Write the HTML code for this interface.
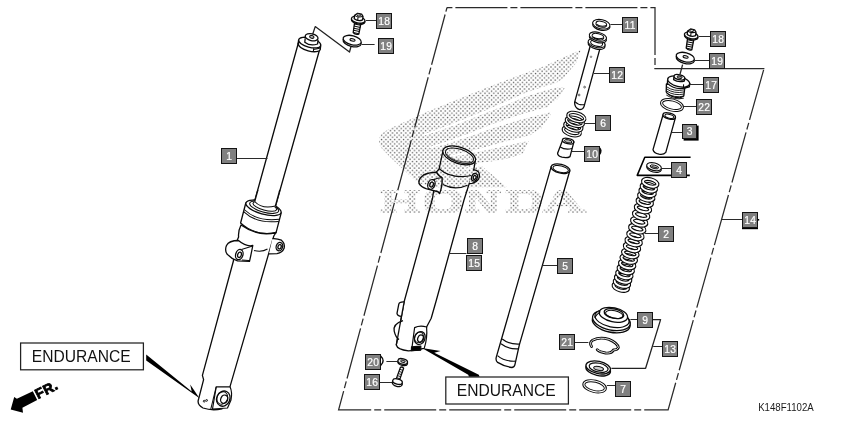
<!DOCTYPE html>
<html><head><meta charset="utf-8"><title>Front fork</title>
<style>
html,body{margin:0;padding:0;background:#fff;}
body{width:842px;height:421px;overflow:hidden;font-family:"Liberation Sans",sans-serif;}
svg{display:block;}
.lb{font-family:"Liberation Sans",sans-serif;font-size:10.3px;fill:#fff;stroke:#fff;stroke-width:0.2px;letter-spacing:0.2px;}
.end{font-family:"Liberation Sans",sans-serif;font-size:15.6px;fill:#111;}
.fr{font-family:"Liberation Sans",sans-serif;font-size:14px;font-weight:bold;fill:#000;stroke:#000;stroke-width:0.8px;letter-spacing:0.4px;}
.code{font-family:"Liberation Sans",sans-serif;font-size:10.4px;fill:#1a1a1a;}
.hd{font-family:"Liberation Serif",serif;font-weight:bold;}
</style></head><body>
<svg width="842" height="421" viewBox="0 0 842 421">
<rect width="842" height="421" fill="#fff"/>
<defs>
<pattern id="dots" width="4.4" height="4.4" patternUnits="userSpaceOnUse">
<rect x="0.3" y="0.3" width="1.3" height="1.3" fill="#5c5c5c"/>
<rect x="2.5" y="2.5" width="1.3" height="1.3" fill="#5c5c5c"/>
</pattern>
</defs>
<path d="M764 68.5 L668.1 409.8 L338.6 409.8 L447 7.5" fill="none" stroke="#2a2a2a" stroke-width="1.25" stroke-dasharray="52 3 7 3" stroke-dashoffset="63.6"/>
<path d="M447 7.5 L655 7.5 L655 68.5" fill="none" stroke="#2a2a2a" stroke-width="1.25" stroke-dasharray="52 3 7 3" stroke-dashoffset="56.6"/>
<path d="M654.4 68.5 L764.4 68.5" fill="none" stroke="#2a2a2a" stroke-width="1.25"/>
<path d="M298.5 42.5 L254.8 200.5 L275 208 L320.2 47.5 Z" fill="#fff" stroke="#0a0a0a" stroke-width="1.30" stroke-linejoin="round" />
<path d="M298.4 40.6 L298.2 44.4 Q305 53.4 320.2 49.4 L320.8 45.4 Z" fill="#fff" stroke="none" stroke-width="1.30" stroke-linejoin="round" />
<ellipse cx="309.30" cy="46.40" rx="11.40" ry="4.60" transform="rotate(15 309.30 46.40)" fill="#fff" stroke="#0a0a0a" stroke-width="1.30" />
<path d="M298.5 40.4 L298.2 44.2 M320.7 45.6 L320.3 49" fill="none" stroke="#0a0a0a" stroke-width="1.30" stroke-linejoin="round" />
<ellipse cx="309.70" cy="42.60" rx="11.40" ry="4.60" transform="rotate(15 309.70 42.60)" fill="#fff" stroke="#0a0a0a" stroke-width="1.30" />
<path d="M305.2 38.2 L304.8 42.2 Q310 46.5 317.6 44 L318 39.8" fill="#fff" stroke="#0a0a0a" stroke-width="1.30" stroke-linejoin="round" />
<ellipse cx="311.60" cy="37.20" rx="6.50" ry="3.40" transform="rotate(12 311.60 37.20)" fill="#fff" stroke="#0a0a0a" stroke-width="1.30" />
<ellipse cx="311.80" cy="36.90" rx="2.20" ry="1.40" transform="rotate(12 311.80 36.90)" fill="#bbb" stroke="#0a0a0a" stroke-width="1.04" />
<path d="M313.6 48.2 L313.4 51.6 M313.5 49.6 L319.6 48.2" fill="none" stroke="#0a0a0a" stroke-width="1.04" stroke-linejoin="round" />
<path d="M312.6 34.5 L315.2 26.6 L349.5 52 L351 46.5" fill="none" stroke="#222" stroke-width="1.30" stroke-linejoin="round" />
<path d="M245.8 203 L240.6 223 Q255 236.5 276 232.8 L281.2 212.8 Z" fill="#fff" stroke="#0a0a0a" stroke-width="1.30" stroke-linejoin="round" />
<ellipse cx="263.50" cy="207.80" rx="18.20" ry="6.30" transform="rotate(15.6 263.50 207.80)" fill="#fff" stroke="#0a0a0a" stroke-width="1.30" />
<ellipse cx="264.20" cy="207.20" rx="15.00" ry="4.90" transform="rotate(15.6 264.20 207.20)" fill="#fff" stroke="#0a0a0a" stroke-width="1.04" />
<ellipse cx="264.80" cy="206.40" rx="12.20" ry="3.80" transform="rotate(15.6 264.80 206.40)" fill="#fff" stroke="#0a0a0a" stroke-width="1.04" />
<path d="M257.6 191 L254.6 202 Q262 210 275.4 206.6 L279.4 192 Z" fill="#fff" stroke="none" stroke-width="1.30" stroke-linejoin="round" />
<path d="M257.9 190 L254.7 201.5 M279.8 190 L275.4 206" fill="none" stroke="#0a0a0a" stroke-width="1.30" stroke-linejoin="round" />
<path d="M254.7 201.5 Q262 209.5 275.4 206" fill="none" stroke="#0a0a0a" stroke-width="1.04" stroke-linejoin="round" />
<path d="M244.2 209.5 Q257 222 279.4 219.3" fill="none" stroke="#0a0a0a" stroke-width="1.04" stroke-linejoin="round" />
<path d="M243.6 211.6 Q256.5 224 278.8 221.4" fill="none" stroke="#0a0a0a" stroke-width="1.04" stroke-linejoin="round" />
<path d="M241 225 Q238 231 238.6 237 L236 243 L233.4 261 L202.4 375.4 L203.6 379.6 L198.6 399 Q196.5 404.5 203 408 Q212 411 222 408.8 L230 386.6 L273.8 236 L276 232.5 Q258 237 241 225 Z" fill="#fff" stroke="#0a0a0a" stroke-width="1.30" stroke-linejoin="round" />
<path d="M238.5 240.5 Q229 240.5 226.5 245.5 Q224.5 250 227 254 Q231 258.5 237.5 260.8 L249.5 261.3 Q251 255 252.8 245.5 Q246 247 238.5 240.5 Z" fill="#fff" stroke="#0a0a0a" stroke-width="1.30" stroke-linejoin="round" />
<ellipse cx="239.30" cy="254.60" rx="3.60" ry="5.20" transform="rotate(18 239.30 254.60)" fill="#fff" stroke="#0a0a0a" stroke-width="1.30" />
<ellipse cx="239.50" cy="254.80" rx="1.80" ry="2.70" transform="rotate(18 239.50 254.80)" fill="#fff" stroke="#0a0a0a" stroke-width="1.30" />
<path d="M241.5 249.6 Q247 247.8 252.6 246" fill="none" stroke="#0a0a0a" stroke-width="1.04" stroke-linejoin="round" />
<path d="M242 260 Q247 260.6 249.7 260.4" fill="none" stroke="#0a0a0a" stroke-width="1.04" stroke-linejoin="round" />
<path d="M254 250.5 Q262 252.5 267.5 249" fill="none" stroke="#0a0a0a" stroke-width="1.04" stroke-linejoin="round" />
<path d="M272.4 238.6 Q277 238.2 281.4 240.2 Q285 243 284.2 248 Q282.4 252.8 277 253.6 L269 253.8" fill="#fff" stroke="#0a0a0a" stroke-width="1.30" stroke-linejoin="round" />
<ellipse cx="279.40" cy="246.60" rx="3.20" ry="4.20" transform="rotate(18 279.40 246.60)" fill="#fff" stroke="#0a0a0a" stroke-width="1.30" />
<ellipse cx="279.60" cy="246.80" rx="1.60" ry="2.20" transform="rotate(18 279.60 246.80)" fill="#fff" stroke="#0a0a0a" stroke-width="1.30" />
<path d="M216.2 386.8 L230 386.8 Q232.5 392 231 400 L227.5 408 L212.5 409 Z" fill="#fff" stroke="#0a0a0a" stroke-width="1.17" stroke-linejoin="round" />
<ellipse cx="223.30" cy="398.60" rx="6.60" ry="7.80" transform="rotate(25 223.30 398.60)" fill="#fff" stroke="#0a0a0a" stroke-width="1.30" />
<ellipse cx="224.20" cy="399.20" rx="3.40" ry="4.30" transform="rotate(25 224.20 399.20)" fill="#fff" stroke="#0a0a0a" stroke-width="1.30" />
<ellipse cx="222.30" cy="398.00" rx="5.20" ry="6.40" transform="rotate(25 222.30 398.00)" fill="none" stroke="#0a0a0a" stroke-width="0.91" />
<path d="M216.2 386.8 L210.8 409" fill="none" stroke="#0a0a0a" stroke-width="1.04" stroke-linejoin="round" />
<ellipse cx="204.20" cy="401.20" rx="0.90" ry="0.90" transform="rotate(0 204.20 401.20)" fill="#fff" stroke="#0a0a0a" stroke-width="0.91" />
<ellipse cx="206.60" cy="400.40" rx="0.90" ry="0.90" transform="rotate(0 206.60 400.40)" fill="#fff" stroke="#0a0a0a" stroke-width="0.91" />
<g transform="translate(358.2 19.5)">
<path d="M-3.4 1.5 L-5 13 Q-3 15.6 0.6 14.6 L3 2.5 Z" fill="#fff" stroke="#0a0a0a" stroke-width="1.30" stroke-linejoin="round" />
<path d="M-3.90 4.50 L2.50 5.80" fill="none" stroke="#0a0a0a" stroke-width="1.04" stroke-linejoin="round" />
<path d="M-4.18 6.60 L2.08 7.90" fill="none" stroke="#0a0a0a" stroke-width="1.04" stroke-linejoin="round" />
<path d="M-4.46 8.70 L1.66 10.00" fill="none" stroke="#0a0a0a" stroke-width="1.04" stroke-linejoin="round" />
<path d="M-4.74 10.80 L1.24 12.10" fill="none" stroke="#0a0a0a" stroke-width="1.04" stroke-linejoin="round" />
<path d="M-5.02 12.90 L0.82 14.20" fill="none" stroke="#0a0a0a" stroke-width="1.04" stroke-linejoin="round" />
<ellipse cx="0.00" cy="1.20" rx="6.90" ry="3.30" transform="rotate(12 0.00 1.20)" fill="#fff" stroke="#0a0a0a" stroke-width="1.30" />
<ellipse cx="0.00" cy="0.20" rx="6.90" ry="3.30" transform="rotate(12 0.00 0.20)" fill="#fff" stroke="#0a0a0a" stroke-width="1.30" />
<path d="M-4 -0.8 L-3.6 -4.2 L-0.6 -6.2 L3.4 -5.4 L4.8 -3.2 L4.4 0.4 Q0 2.4 -4 -0.8 Z" fill="#fff" stroke="#0a0a0a" stroke-width="1.30" stroke-linejoin="round" />
<path d="M-3.6 -4.2 Q0 -1.6 4.8 -3.2 M-0.2 -2.6 L-0.5 1" fill="none" stroke="#0a0a0a" stroke-width="1.04" stroke-linejoin="round" />
<ellipse cx="0.60" cy="-4.60" rx="2.00" ry="1.00" transform="rotate(10 0.60 -4.60)" fill="#fff" stroke="#0a0a0a" stroke-width="0.91" />
</g>
<line x1="366" y1="20.5" x2="376.5" y2="20.5" stroke="#2a2a2a" stroke-width="1.0" />
<rect x="376.50" y="13.50" width="15" height="15" fill="#808080" stroke="#141414" stroke-width="1"/>
<text x="384.15" y="24.60" text-anchor="middle" class="lb">18</text>
<ellipse cx="352.20" cy="41.90" rx="9.30" ry="4.50" transform="rotate(14 352.20 41.90)" fill="#fff" stroke="#0a0a0a" stroke-width="1.30" />
<ellipse cx="352.20" cy="40.20" rx="9.30" ry="4.50" transform="rotate(14 352.20 40.20)" fill="#fff" stroke="#0a0a0a" stroke-width="1.30" />
<ellipse cx="352.50" cy="39.90" rx="2.60" ry="1.20" transform="rotate(14 352.50 39.90)" fill="#ddd" stroke="#0a0a0a" stroke-width="1.04" />
<line x1="362" y1="44.5" x2="374.6" y2="44.5" stroke="#2a2a2a" stroke-width="1.0" />
<rect x="378.50" y="38.50" width="15" height="15" fill="#808080" stroke="#141414" stroke-width="1"/>
<text x="386.15" y="49.60" text-anchor="middle" class="lb">19</text>
<line x1="237" y1="158.5" x2="267.5" y2="158.5" stroke="#2a2a2a" stroke-width="1.0" />
<rect x="221.50" y="148.50" width="15" height="15" fill="#808080" stroke="#141414" stroke-width="1"/>
<text x="229.15" y="159.60" text-anchor="middle" class="lb">1</text>
<rect x="20.6" y="343" width="122.8" height="26.8" fill="#fff" stroke="#222" stroke-width="1.25"/>
<text x="81.2" y="361.7" text-anchor="middle" class="end">ENDURANCE</text>
<path d="M146.2 354.6 L191.7 391.5 L190.2 384.4 L199.5 398.3 L146.2 360.6 Z" fill="#000" stroke="none" stroke-width="1.30" stroke-linejoin="round" />
<path d="M10.7 409.4 L14.2 396.9 L16.9 398.8 L32.8 391.2 L37.2 400.1 L22.4 407.8 L23 412.7 Z" fill="#000" stroke="none" stroke-width="1.30" stroke-linejoin="round" />
<text transform="translate(38.0 399.2) rotate(-27)" class="fr">FR.</text>
<path d="M443.1 150.1 L439.2 168.7 L436.4 172.2 L432.6 198 L404.2 301.5 L396.3 345 Q397.4 349.6 408.4 350.9 L420.6 349.8 L426.6 327 L431.2 318.2 L436.4 300 L464 200 L469.2 183.6 L472.8 175.2 L475.3 160.8 Z" fill="#fff" stroke="#0a0a0a" stroke-width="1.30" stroke-linejoin="round" />
<path d="M403 320.6 Q392.6 324 394.2 331.2 Q395.6 337.4 399 339.6" fill="#fff" stroke="#0a0a0a" stroke-width="1.30" stroke-linejoin="round" />
<ellipse cx="459.20" cy="155.40" rx="17.00" ry="8.20" transform="rotate(18.4 459.20 155.40)" fill="#fff" stroke="#0a0a0a" stroke-width="1.23" />
<ellipse cx="459.50" cy="155.70" rx="14.60" ry="6.50" transform="rotate(18.4 459.50 155.70)" fill="#fff" stroke="#0a0a0a" stroke-width="0.98" />
<path d="M446.6 153.8 Q452 162.5 472.4 162.2" fill="none" stroke="#333" stroke-width="0.78" stroke-linejoin="round" />
<path d="M447.6 156.6 Q455 163.6 469.6 163.6" fill="none" stroke="#333" stroke-width="0.78" stroke-linejoin="round" />
<path d="M439.2 168.7 Q452 180 472.8 175.3" fill="none" stroke="#0a0a0a" stroke-width="1.17" stroke-linejoin="round" />
<path d="M442.8 184.6 Q455 191 467.4 185.2" fill="none" stroke="#0a0a0a" stroke-width="1.17" stroke-linejoin="round" />
<path d="M436.4 172.2 Q428 172.6 423.6 175 Q418 179 419 183.4 Q421 187 426 188.6 L438 191.8 L439.6 193.4 Q442.6 186 442.1 177.6 Q439 176.6 436.4 172.2 Z" fill="#fff" stroke="#0a0a0a" stroke-width="1.43" stroke-linejoin="round" />
<ellipse cx="431.40" cy="184.40" rx="3.50" ry="5.00" transform="rotate(20 431.40 184.40)" fill="#fff" stroke="#0a0a0a" stroke-width="1.30" />
<ellipse cx="431.60" cy="184.60" rx="1.70" ry="2.50" transform="rotate(20 431.60 184.60)" fill="#fff" stroke="#0a0a0a" stroke-width="1.30" />
<path d="M433.4 179.8 Q438 177.6 442 177.7" fill="none" stroke="#0a0a0a" stroke-width="1.04" stroke-linejoin="round" />
<path d="M472.8 170.1 Q476 169.4 478.5 172 Q480.4 175 478.6 179 Q476.5 182.6 472 183.4 L469.2 183.6" fill="#fff" stroke="#0a0a0a" stroke-width="1.30" stroke-linejoin="round" />
<ellipse cx="474.50" cy="177.20" rx="2.80" ry="3.90" transform="rotate(20 474.50 177.20)" fill="#fff" stroke="#0a0a0a" stroke-width="1.30" />
<ellipse cx="474.70" cy="177.40" rx="1.40" ry="2.00" transform="rotate(20 474.70 177.40)" fill="#fff" stroke="#0a0a0a" stroke-width="1.30" />
<path d="M404.2 301.9 Q399.4 301.6 398.8 304.2 L397 313.4 Q397.4 316 401.6 316.4" fill="#fff" stroke="#0a0a0a" stroke-width="1.30" stroke-linejoin="round" />
<path d="M404.2 301.5 L396.3 345" fill="none" stroke="#0a0a0a" stroke-width="1.30" stroke-linejoin="round" />
<path d="M414.6 327.6 Q420 325 426.6 327 Q427.6 338 424.2 348.4 L411.6 350.4 Z" fill="#fff" stroke="#0a0a0a" stroke-width="1.17" stroke-linejoin="round" />
<ellipse cx="419.80" cy="338.00" rx="5.20" ry="6.60" transform="rotate(22 419.80 338.00)" fill="#fff" stroke="#0a0a0a" stroke-width="1.30" />
<ellipse cx="420.60" cy="338.60" rx="2.80" ry="3.70" transform="rotate(22 420.60 338.60)" fill="#fff" stroke="#0a0a0a" stroke-width="1.30" />
<ellipse cx="419.00" cy="337.40" rx="4.20" ry="5.40" transform="rotate(22 419.00 337.40)" fill="none" stroke="#0a0a0a" stroke-width="0.91" />
<path d="M411.6 346.8 L420.8 346.2 L420.6 350 L411.4 350.6 Z" fill="#000" stroke="#0a0a0a" stroke-width="1.30" stroke-linejoin="round" />
<line x1="449.8" y1="253.5" x2="466.5" y2="253.5" stroke="#2a2a2a" stroke-width="1.0" />
<rect x="467.50" y="238.50" width="15" height="15" fill="#808080" stroke="#141414" stroke-width="1"/>
<text x="475.15" y="249.60" text-anchor="middle" class="lb">8</text>
<rect x="466.50" y="255.50" width="15" height="15" fill="#808080" stroke="#141414" stroke-width="1"/>
<text x="474.15" y="266.60" text-anchor="middle" class="lb">15</text>
<path d="M380.6 355.9 Q385.6 360.6 380.6 365.4" fill="#fff" stroke="#0a0a0a" stroke-width="1.43" stroke-linejoin="round" />
<rect x="365.50" y="354.50" width="15" height="15" fill="#808080" stroke="#141414" stroke-width="1"/>
<text x="373.15" y="365.60" text-anchor="middle" class="lb">20</text>
<line x1="386.4" y1="361.5" x2="397.2" y2="361.5" stroke="#2a2a2a" stroke-width="1.0" />
<ellipse cx="402.70" cy="362.70" rx="4.90" ry="2.70" transform="rotate(14 402.70 362.70)" fill="#fff" stroke="#0a0a0a" stroke-width="1.30" />
<ellipse cx="402.70" cy="361.50" rx="4.90" ry="2.70" transform="rotate(14 402.70 361.50)" fill="#e4e4e4" stroke="#0a0a0a" stroke-width="1.30" />
<ellipse cx="402.90" cy="361.30" rx="2.30" ry="1.10" transform="rotate(14 402.90 361.30)" fill="#bbb" stroke="#0a0a0a" stroke-width="0.91" />
<rect x="364.50" y="374.50" width="15" height="15" fill="#808080" stroke="#141414" stroke-width="1"/>
<text x="372.15" y="385.60" text-anchor="middle" class="lb">16</text>
<line x1="379.8" y1="382.5" x2="392.6" y2="382.5" stroke="#2a2a2a" stroke-width="1.0" />
<path d="M400.4 367.4 L396 379.6 L399.4 380.6 L403.6 368.2 Q402.2 366.4 400.4 367.4 Z" fill="#fff" stroke="#0a0a0a" stroke-width="1.30" stroke-linejoin="round" />
<path d="M400.00 369.40 L403.00 370.40" fill="none" stroke="#0a0a0a" stroke-width="0.91" stroke-linejoin="round" />
<path d="M399.25 371.50 L402.25 372.50" fill="none" stroke="#0a0a0a" stroke-width="0.91" stroke-linejoin="round" />
<path d="M398.50 373.60 L401.50 374.60" fill="none" stroke="#0a0a0a" stroke-width="0.91" stroke-linejoin="round" />
<path d="M397.75 375.70 L400.75 376.70" fill="none" stroke="#0a0a0a" stroke-width="0.91" stroke-linejoin="round" />
<path d="M397.00 377.80 L400.00 378.80" fill="none" stroke="#0a0a0a" stroke-width="0.91" stroke-linejoin="round" />
<ellipse cx="397.30" cy="383.40" rx="5.10" ry="3.10" transform="rotate(14 397.30 383.40)" fill="#fff" stroke="#0a0a0a" stroke-width="1.30" />
<ellipse cx="397.50" cy="381.60" rx="4.90" ry="2.60" transform="rotate(14 397.50 381.60)" fill="#fff" stroke="#0a0a0a" stroke-width="1.30" />
<path d="M421.9 348 L440.6 351 L434.3 352.8 L478.8 374.8 L479.6 376.8 L469 376.8 L468.2 374.8 Z" fill="#000" stroke="none" stroke-width="1.30" stroke-linejoin="round" />
<rect x="445.8" y="377" width="122.6" height="27" fill="#fff" stroke="#222" stroke-width="1.25"/>
<text x="506.2" y="396.2" text-anchor="middle" class="end">ENDURANCE</text>
<path d="M551.2 166.6 L501.6 338.7 L496.3 357.1 Q495.4 360.6 497.6 362.4 Q504 366.4 512 367.5 Q514.6 367 515 364.4 L519.4 344.6 L569.8 170.8 Z" fill="#fff" stroke="#0a0a0a" stroke-width="1.30" stroke-linejoin="round" />
<ellipse cx="560.50" cy="168.70" rx="9.60" ry="4.40" transform="rotate(13 560.50 168.70)" fill="#fff" stroke="#0a0a0a" stroke-width="1.30" />
<ellipse cx="560.70" cy="169.10" rx="7.90" ry="3.30" transform="rotate(13 560.70 169.10)" fill="#fff" stroke="#0a0a0a" stroke-width="1.04" />
<path d="M502.2 339 Q509 344.6 520 344" fill="none" stroke="#0a0a0a" stroke-width="1.17" stroke-linejoin="round" />
<path d="M501 343.8 Q508 349.4 518.6 348.8" fill="none" stroke="#0a0a0a" stroke-width="1.17" stroke-linejoin="round" />
<path d="M497.5 355.6 Q504.4 361.6 515.3 361.2" fill="none" stroke="#0a0a0a" stroke-width="1.17" stroke-linejoin="round" />
<line x1="542.5" y1="265.5" x2="557.8" y2="265.5" stroke="#2a2a2a" stroke-width="1.0" />
<rect x="557.50" y="258.50" width="15" height="15" fill="#808080" stroke="#141414" stroke-width="1"/>
<text x="565.15" y="269.60" text-anchor="middle" class="lb">5</text>
<ellipse cx="601.30" cy="25.60" rx="8.80" ry="4.60" transform="rotate(12 601.30 25.60)" fill="#fff" stroke="#0a0a0a" stroke-width="1.10" />
<ellipse cx="601.30" cy="24.20" rx="8.80" ry="4.60" transform="rotate(12 601.30 24.20)" fill="#fff" stroke="#0a0a0a" stroke-width="1.10" />
<ellipse cx="601.30" cy="24.20" rx="5.46" ry="2.85" transform="rotate(12 601.30 24.20)" fill="#fff" stroke="#0a0a0a" stroke-width="0.98" />
<path d="M596.4 24.2 Q601 27.4 606.6 25.4" fill="none" stroke="#0a0a0a" stroke-width="1.04" stroke-linejoin="round" />
<line x1="610.4" y1="24.5" x2="622.4" y2="24.5" stroke="#2a2a2a" stroke-width="1.0" />
<rect x="622.50" y="17.50" width="15" height="15" fill="#808080" stroke="#141414" stroke-width="1"/>
<text x="630.15" y="28.60" text-anchor="middle" class="lb">11</text>
<path d="M590.2 46 L574.6 102.4 Q574.6 108 579.6 109.6 Q583 109.6 584 106.6 L600.2 47.6 Z" fill="#fff" stroke="#0a0a0a" stroke-width="1.30" stroke-linejoin="round" />
<path d="M574.9 101.6 Q578.6 105.6 584.6 104.6" fill="none" stroke="#0a0a0a" stroke-width="1.04" stroke-linejoin="round" />
<ellipse cx="596.60" cy="44.80" rx="8.70" ry="4.20" transform="rotate(14 596.60 44.80)" fill="#fff" stroke="#0a0a0a" stroke-width="1.10" />
<ellipse cx="596.60" cy="43.20" rx="8.70" ry="4.20" transform="rotate(14 596.60 43.20)" fill="#fff" stroke="#0a0a0a" stroke-width="1.10" />
<ellipse cx="596.60" cy="43.20" rx="6.09" ry="2.94" transform="rotate(14 596.60 43.20)" fill="#fff" stroke="#0a0a0a" stroke-width="0.98" />
<ellipse cx="597.90" cy="38.20" rx="8.80" ry="4.30" transform="rotate(14 597.90 38.20)" fill="#fff" stroke="#0a0a0a" stroke-width="1.10" />
<ellipse cx="597.90" cy="36.60" rx="8.80" ry="4.30" transform="rotate(14 597.90 36.60)" fill="#fff" stroke="#0a0a0a" stroke-width="1.10" />
<ellipse cx="597.90" cy="36.60" rx="5.98" ry="2.92" transform="rotate(14 597.90 36.60)" fill="#fff" stroke="#0a0a0a" stroke-width="0.98" />
<path d="M592.8 37 Q597.6 40 603.6 38" fill="none" stroke="#0a0a0a" stroke-width="1.04" stroke-linejoin="round" />
<ellipse cx="584.60" cy="87.10" rx="0.90" ry="0.90" transform="rotate(0 584.60 87.10)" fill="#ddd" stroke="#555" stroke-width="0.91" />
<ellipse cx="579.10" cy="95.00" rx="0.90" ry="0.90" transform="rotate(0 579.10 95.00)" fill="#ddd" stroke="#555" stroke-width="0.91" />
<ellipse cx="591.00" cy="56.80" rx="0.80" ry="0.80" transform="rotate(0 591.00 56.80)" fill="#ddd" stroke="#666" stroke-width="0.78" />
<line x1="594" y1="73.5" x2="609.5" y2="73.5" stroke="#2a2a2a" stroke-width="1.0" />
<rect x="609.50" y="67.50" width="15" height="15" fill="#808080" stroke="#141414" stroke-width="1"/>
<text x="617.15" y="78.60" text-anchor="middle" class="lb">12</text>
<ellipse cx="571.80" cy="131.20" rx="8.70" ry="4.10" transform="rotate(16 571.80 131.20)" fill="none" stroke="#0a0a0a" stroke-width="3.40" />
<ellipse cx="571.80" cy="131.20" rx="8.70" ry="4.10" transform="rotate(16 571.80 131.20)" fill="none" stroke="#fff" stroke-width="1.35" />
<ellipse cx="573.33" cy="126.47" rx="8.70" ry="4.10" transform="rotate(16 573.33 126.47)" fill="none" stroke="#0a0a0a" stroke-width="3.40" />
<ellipse cx="573.33" cy="126.47" rx="8.70" ry="4.10" transform="rotate(16 573.33 126.47)" fill="none" stroke="#fff" stroke-width="1.35" />
<ellipse cx="574.87" cy="121.73" rx="8.70" ry="4.10" transform="rotate(16 574.87 121.73)" fill="none" stroke="#0a0a0a" stroke-width="3.40" />
<ellipse cx="574.87" cy="121.73" rx="8.70" ry="4.10" transform="rotate(16 574.87 121.73)" fill="none" stroke="#fff" stroke-width="1.35" />
<ellipse cx="576.40" cy="117.00" rx="8.70" ry="4.10" transform="rotate(16 576.40 117.00)" fill="none" stroke="#0a0a0a" stroke-width="3.40" />
<ellipse cx="576.40" cy="117.00" rx="8.70" ry="4.10" transform="rotate(16 576.40 117.00)" fill="none" stroke="#fff" stroke-width="1.35" />
<line x1="585" y1="123.5" x2="595.6" y2="123.5" stroke="#2a2a2a" stroke-width="1.0" />
<rect x="595.50" y="115.50" width="15" height="15" fill="#808080" stroke="#141414" stroke-width="1"/>
<text x="603.15" y="126.60" text-anchor="middle" class="lb">6</text>
<ellipse cx="620.80" cy="287.00" rx="7.40" ry="3.50" transform="rotate(15 620.80 287.00)" fill="none" stroke="#0a0a0a" stroke-width="4.10" />
<ellipse cx="620.80" cy="287.00" rx="7.40" ry="3.50" transform="rotate(15 620.80 287.00)" fill="none" stroke="#fff" stroke-width="1.90" />
<ellipse cx="621.93" cy="283.00" rx="7.40" ry="3.50" transform="rotate(15 621.93 283.00)" fill="none" stroke="#0a0a0a" stroke-width="4.10" />
<ellipse cx="621.93" cy="283.00" rx="7.40" ry="3.50" transform="rotate(15 621.93 283.00)" fill="none" stroke="#fff" stroke-width="1.90" />
<ellipse cx="623.11" cy="278.80" rx="7.40" ry="3.50" transform="rotate(15 623.11 278.80)" fill="none" stroke="#0a0a0a" stroke-width="4.10" />
<ellipse cx="623.11" cy="278.80" rx="7.40" ry="3.50" transform="rotate(15 623.11 278.80)" fill="none" stroke="#fff" stroke-width="1.90" />
<ellipse cx="624.36" cy="274.40" rx="7.40" ry="3.50" transform="rotate(15 624.36 274.40)" fill="none" stroke="#0a0a0a" stroke-width="4.10" />
<ellipse cx="624.36" cy="274.40" rx="7.40" ry="3.50" transform="rotate(15 624.36 274.40)" fill="none" stroke="#fff" stroke-width="1.90" />
<ellipse cx="625.77" cy="269.40" rx="7.40" ry="3.50" transform="rotate(15 625.77 269.40)" fill="none" stroke="#0a0a0a" stroke-width="4.10" />
<ellipse cx="625.77" cy="269.40" rx="7.40" ry="3.50" transform="rotate(15 625.77 269.40)" fill="none" stroke="#fff" stroke-width="1.90" />
<ellipse cx="627.18" cy="264.40" rx="7.40" ry="3.50" transform="rotate(15 627.18 264.40)" fill="none" stroke="#0a0a0a" stroke-width="4.10" />
<ellipse cx="627.18" cy="264.40" rx="7.40" ry="3.50" transform="rotate(15 627.18 264.40)" fill="none" stroke="#fff" stroke-width="1.90" />
<ellipse cx="628.73" cy="258.90" rx="7.40" ry="3.50" transform="rotate(15 628.73 258.90)" fill="none" stroke="#0a0a0a" stroke-width="4.10" />
<ellipse cx="628.73" cy="258.90" rx="7.40" ry="3.50" transform="rotate(15 628.73 258.90)" fill="none" stroke="#fff" stroke-width="1.90" />
<ellipse cx="630.28" cy="253.40" rx="7.40" ry="3.50" transform="rotate(15 630.28 253.40)" fill="none" stroke="#0a0a0a" stroke-width="4.10" />
<ellipse cx="630.28" cy="253.40" rx="7.40" ry="3.50" transform="rotate(15 630.28 253.40)" fill="none" stroke="#fff" stroke-width="1.90" />
<ellipse cx="632.00" cy="247.30" rx="7.40" ry="3.50" transform="rotate(15 632.00 247.30)" fill="none" stroke="#0a0a0a" stroke-width="4.10" />
<ellipse cx="632.00" cy="247.30" rx="7.40" ry="3.50" transform="rotate(15 632.00 247.30)" fill="none" stroke="#fff" stroke-width="1.90" />
<ellipse cx="633.67" cy="241.40" rx="7.40" ry="3.50" transform="rotate(15 633.67 241.40)" fill="none" stroke="#0a0a0a" stroke-width="4.10" />
<ellipse cx="633.67" cy="241.40" rx="7.40" ry="3.50" transform="rotate(15 633.67 241.40)" fill="none" stroke="#fff" stroke-width="1.90" />
<ellipse cx="635.39" cy="235.30" rx="7.40" ry="3.50" transform="rotate(15 635.39 235.30)" fill="none" stroke="#0a0a0a" stroke-width="4.10" />
<ellipse cx="635.39" cy="235.30" rx="7.40" ry="3.50" transform="rotate(15 635.39 235.30)" fill="none" stroke="#fff" stroke-width="1.90" />
<ellipse cx="637.28" cy="228.60" rx="7.40" ry="3.50" transform="rotate(15 637.28 228.60)" fill="none" stroke="#0a0a0a" stroke-width="4.10" />
<ellipse cx="637.28" cy="228.60" rx="7.40" ry="3.50" transform="rotate(15 637.28 228.60)" fill="none" stroke="#fff" stroke-width="1.90" />
<ellipse cx="639.22" cy="221.70" rx="7.40" ry="3.50" transform="rotate(15 639.22 221.70)" fill="none" stroke="#0a0a0a" stroke-width="4.10" />
<ellipse cx="639.22" cy="221.70" rx="7.40" ry="3.50" transform="rotate(15 639.22 221.70)" fill="none" stroke="#fff" stroke-width="1.90" />
<ellipse cx="641.11" cy="215.00" rx="7.40" ry="3.50" transform="rotate(15 641.11 215.00)" fill="none" stroke="#0a0a0a" stroke-width="4.10" />
<ellipse cx="641.11" cy="215.00" rx="7.40" ry="3.50" transform="rotate(15 641.11 215.00)" fill="none" stroke="#fff" stroke-width="1.90" />
<ellipse cx="642.98" cy="208.40" rx="7.40" ry="3.50" transform="rotate(15 642.98 208.40)" fill="none" stroke="#0a0a0a" stroke-width="4.10" />
<ellipse cx="642.98" cy="208.40" rx="7.40" ry="3.50" transform="rotate(15 642.98 208.40)" fill="none" stroke="#fff" stroke-width="1.90" />
<ellipse cx="644.75" cy="202.10" rx="7.40" ry="3.50" transform="rotate(15 644.75 202.10)" fill="none" stroke="#0a0a0a" stroke-width="4.10" />
<ellipse cx="644.75" cy="202.10" rx="7.40" ry="3.50" transform="rotate(15 644.75 202.10)" fill="none" stroke="#fff" stroke-width="1.90" />
<ellipse cx="646.28" cy="196.70" rx="7.40" ry="3.50" transform="rotate(15 646.28 196.70)" fill="none" stroke="#0a0a0a" stroke-width="4.10" />
<ellipse cx="646.28" cy="196.70" rx="7.40" ry="3.50" transform="rotate(15 646.28 196.70)" fill="none" stroke="#fff" stroke-width="1.90" />
<ellipse cx="647.58" cy="192.10" rx="7.40" ry="3.50" transform="rotate(15 647.58 192.10)" fill="none" stroke="#0a0a0a" stroke-width="4.10" />
<ellipse cx="647.58" cy="192.10" rx="7.40" ry="3.50" transform="rotate(15 647.58 192.10)" fill="none" stroke="#fff" stroke-width="1.90" />
<ellipse cx="648.85" cy="187.60" rx="7.40" ry="3.50" transform="rotate(15 648.85 187.60)" fill="none" stroke="#0a0a0a" stroke-width="4.10" />
<ellipse cx="648.85" cy="187.60" rx="7.40" ry="3.50" transform="rotate(15 648.85 187.60)" fill="none" stroke="#fff" stroke-width="1.90" />
<ellipse cx="650.20" cy="182.80" rx="7.40" ry="3.50" transform="rotate(15 650.20 182.80)" fill="none" stroke="#0a0a0a" stroke-width="4.10" />
<ellipse cx="650.20" cy="182.80" rx="7.40" ry="3.50" transform="rotate(15 650.20 182.80)" fill="none" stroke="#fff" stroke-width="1.90" />
<line x1="644.8" y1="233.5" x2="658.8" y2="233.5" stroke="#2a2a2a" stroke-width="1.0" />
<rect x="658.50" y="226.50" width="15" height="15" fill="#808080" stroke="#141414" stroke-width="1"/>
<text x="666.15" y="237.60" text-anchor="middle" class="lb">2</text>
<path d="M562.4 140.7 L557.6 153.2 Q557.6 156 562 157.2 Q567 158.4 570 156.6 L573.9 141.8 Z" fill="#fff" stroke="#0a0a0a" stroke-width="1.30" stroke-linejoin="round" />
<ellipse cx="568.10" cy="141.10" rx="5.80" ry="2.60" transform="rotate(12 568.10 141.10)" fill="#fff" stroke="#0a0a0a" stroke-width="1.30" />
<ellipse cx="568.20" cy="141.30" rx="3.90" ry="1.50" transform="rotate(12 568.20 141.30)" fill="#bbb" stroke="#0a0a0a" stroke-width="0.91" />
<path d="M560.2 147 Q565 150.2 572 148.6" fill="none" stroke="#0a0a0a" stroke-width="1.04" stroke-linejoin="round" />
<path d="M599 147.4 Q602.4 150.6 599.4 154.4" fill="#000" stroke="#0a0a0a" stroke-width="1.56" stroke-linejoin="round" />
<line x1="571.6" y1="151.5" x2="584.5" y2="151.5" stroke="#2a2a2a" stroke-width="1.0" />
<rect x="584.50" y="146.50" width="15" height="15" fill="#808080" stroke="#141414" stroke-width="1"/>
<text x="592.15" y="157.60" text-anchor="middle" class="lb">10</text>
<g transform="translate(691.2 35.2)">
<path d="M-3.4 1.5 L-5 13 Q-3 15.6 0.6 14.6 L3 2.5 Z" fill="#fff" stroke="#0a0a0a" stroke-width="1.30" stroke-linejoin="round" />
<path d="M-3.90 4.50 L2.50 5.80" fill="none" stroke="#0a0a0a" stroke-width="1.04" stroke-linejoin="round" />
<path d="M-4.18 6.60 L2.08 7.90" fill="none" stroke="#0a0a0a" stroke-width="1.04" stroke-linejoin="round" />
<path d="M-4.46 8.70 L1.66 10.00" fill="none" stroke="#0a0a0a" stroke-width="1.04" stroke-linejoin="round" />
<path d="M-4.74 10.80 L1.24 12.10" fill="none" stroke="#0a0a0a" stroke-width="1.04" stroke-linejoin="round" />
<path d="M-5.02 12.90 L0.82 14.20" fill="none" stroke="#0a0a0a" stroke-width="1.04" stroke-linejoin="round" />
<ellipse cx="0.00" cy="1.20" rx="6.90" ry="3.30" transform="rotate(12 0.00 1.20)" fill="#fff" stroke="#0a0a0a" stroke-width="1.30" />
<ellipse cx="0.00" cy="0.20" rx="6.90" ry="3.30" transform="rotate(12 0.00 0.20)" fill="#fff" stroke="#0a0a0a" stroke-width="1.30" />
<path d="M-4 -0.8 L-3.6 -4.2 L-0.6 -6.2 L3.4 -5.4 L4.8 -3.2 L4.4 0.4 Q0 2.4 -4 -0.8 Z" fill="#fff" stroke="#0a0a0a" stroke-width="1.30" stroke-linejoin="round" />
<path d="M-3.6 -4.2 Q0 -1.6 4.8 -3.2 M-0.2 -2.6 L-0.5 1" fill="none" stroke="#0a0a0a" stroke-width="1.04" stroke-linejoin="round" />
<ellipse cx="0.60" cy="-4.60" rx="2.00" ry="1.00" transform="rotate(10 0.60 -4.60)" fill="#fff" stroke="#0a0a0a" stroke-width="0.91" />
</g>
<line x1="699" y1="36.5" x2="710.4" y2="36.5" stroke="#2a2a2a" stroke-width="1.0" />
<rect x="710.50" y="31.50" width="15" height="15" fill="#808080" stroke="#141414" stroke-width="1"/>
<text x="718.15" y="42.60" text-anchor="middle" class="lb">18</text>
<ellipse cx="685.30" cy="58.90" rx="9.30" ry="4.50" transform="rotate(14 685.30 58.90)" fill="#fff" stroke="#0a0a0a" stroke-width="1.30" />
<ellipse cx="685.30" cy="57.20" rx="9.30" ry="4.50" transform="rotate(14 685.30 57.20)" fill="#fff" stroke="#0a0a0a" stroke-width="1.30" />
<ellipse cx="685.60" cy="56.90" rx="2.60" ry="1.20" transform="rotate(14 685.60 56.90)" fill="#ddd" stroke="#0a0a0a" stroke-width="1.04" />
<line x1="695" y1="60.5" x2="709.2" y2="60.5" stroke="#2a2a2a" stroke-width="1.0" />
<rect x="709.50" y="53.50" width="15" height="15" fill="#808080" stroke="#141414" stroke-width="1"/>
<text x="717.15" y="64.60" text-anchor="middle" class="lb">19</text>
<path d="M682.6 64.6 L680 74.4" fill="none" stroke="#222" stroke-width="1.30" stroke-linejoin="round" />
<path d="M666.4 84 L666.2 92 Q670 97.6 680 97.8 L683.8 96 L685 86 Z" fill="#fff" stroke="#0a0a0a" stroke-width="1.30" stroke-linejoin="round" />
<path d="M666.30 86.60 Q674.00 92.00 684.40 89.80" fill="none" stroke="#0a0a0a" stroke-width="0.91" stroke-linejoin="round" />
<path d="M666.30 88.70 Q674.00 94.10 684.25 91.90" fill="none" stroke="#0a0a0a" stroke-width="0.91" stroke-linejoin="round" />
<path d="M666.30 90.80 Q674.00 96.20 684.10 94.00" fill="none" stroke="#0a0a0a" stroke-width="0.91" stroke-linejoin="round" />
<path d="M666.30 92.90 Q674.00 98.30 683.95 96.10" fill="none" stroke="#0a0a0a" stroke-width="0.91" stroke-linejoin="round" />
<path d="M666.30 95.00 Q674.00 100.40 683.80 98.20" fill="none" stroke="#0a0a0a" stroke-width="0.91" stroke-linejoin="round" />
<path d="M667.6 80 L667.4 83.4 Q676 91.6 689.4 86.8 L689.8 83" fill="#fff" stroke="#0a0a0a" stroke-width="1.30" stroke-linejoin="round" />
<ellipse cx="678.70" cy="81.50" rx="11.30" ry="5.00" transform="rotate(14 678.70 81.50)" fill="#fff" stroke="#0a0a0a" stroke-width="1.30" />
<path d="M674 76.6 L673.6 79.6 Q678 82.6 684.4 81 L684.8 78" fill="#fff" stroke="#0a0a0a" stroke-width="1.30" stroke-linejoin="round" />
<ellipse cx="679.40" cy="77.20" rx="5.50" ry="2.50" transform="rotate(14 679.40 77.20)" fill="#fff" stroke="#0a0a0a" stroke-width="1.30" />
<ellipse cx="679.60" cy="77.20" rx="2.60" ry="1.20" transform="rotate(14 679.60 77.20)" fill="#999" stroke="#0a0a0a" stroke-width="0.91" />
<path d="M683.6 84.4 L683.4 88 L687.6 87.2" fill="none" stroke="#0a0a0a" stroke-width="1.04" stroke-linejoin="round" />
<line x1="689.6" y1="84.5" x2="703.4" y2="84.5" stroke="#2a2a2a" stroke-width="1.0" />
<rect x="703.50" y="77.50" width="15" height="15" fill="#808080" stroke="#141414" stroke-width="1"/>
<text x="711.15" y="88.60" text-anchor="middle" class="lb">17</text>
<ellipse cx="672.00" cy="105.00" rx="10.70" ry="5.00" transform="rotate(14 672.00 105.00)" fill="none" stroke="#0a0a0a" stroke-width="3.00" />
<ellipse cx="672.00" cy="105.00" rx="10.70" ry="5.00" transform="rotate(14 672.00 105.00)" fill="none" stroke="#fff" stroke-width="1.10" />
<line x1="684" y1="106.5" x2="696.4" y2="106.5" stroke="#2a2a2a" stroke-width="1.0" />
<rect x="696.50" y="99.50" width="15" height="15" fill="#808080" stroke="#141414" stroke-width="1"/>
<text x="704.15" y="110.60" text-anchor="middle" class="lb">22</text>
<path d="M663 115 L653 149.6 Q653.6 153 659 154.2 Q663.6 155 665.8 152.4 L675.5 117.4 Z" fill="#fff" stroke="#0a0a0a" stroke-width="1.30" stroke-linejoin="round" />
<ellipse cx="669.20" cy="116.00" rx="6.40" ry="2.90" transform="rotate(14 669.20 116.00)" fill="#fff" stroke="#0a0a0a" stroke-width="1.30" />
<ellipse cx="669.40" cy="116.30" rx="4.60" ry="1.90" transform="rotate(14 669.40 116.30)" fill="#fff" stroke="#0a0a0a" stroke-width="1.04" />
<line x1="671.6" y1="132.5" x2="682.6" y2="132.5" stroke="#2a2a2a" stroke-width="1.0" />
<rect x="683.60" y="125.60" width="15" height="15" fill="#000"/>
<rect x="682.50" y="124.50" width="14" height="14" fill="#808080" stroke="#141414" stroke-width="1"/>
<text x="689.65" y="135.10" text-anchor="middle" class="lb">3</text>
<path d="M690.6 157.2 L644.8 157.2 L637.2 175.4 L689.8 175.4" fill="none" stroke="#000" stroke-width="1.56" stroke-linejoin="round" />
<ellipse cx="654.00" cy="168.30" rx="7.50" ry="3.80" transform="rotate(14 654.00 168.30)" fill="#fff" stroke="#0a0a0a" stroke-width="1.10" />
<ellipse cx="654.00" cy="166.70" rx="7.50" ry="3.80" transform="rotate(14 654.00 166.70)" fill="#fff" stroke="#0a0a0a" stroke-width="1.10" />
<ellipse cx="654.30" cy="166.90" rx="4.40" ry="1.70" transform="rotate(14 654.30 166.90)" fill="#ddd" stroke="#0a0a0a" stroke-width="0.91" />
<path d="M651.4 166.6 L657.4 167.8" fill="none" stroke="#222" stroke-width="1.17" stroke-linejoin="round" />
<line x1="662" y1="168.5" x2="671.4" y2="168.5" stroke="#2a2a2a" stroke-width="1.0" />
<rect x="671.50" y="162.50" width="15" height="15" fill="#808080" stroke="#141414" stroke-width="1"/>
<text x="679.15" y="173.60" text-anchor="middle" class="lb">4</text>
<line x1="721.2" y1="219.5" x2="742.6" y2="219.5" stroke="#2a2a2a" stroke-width="1.0" />
<rect x="742.00" y="213.20" width="16" height="16" fill="#000"/>
<rect x="742.50" y="212.50" width="15" height="15" fill="#808080" stroke="#141414" stroke-width="1"/>
<text x="750.15" y="223.60" text-anchor="middle" class="lb">14</text>
<rect x="757.6" y="219" width="1.6" height="1.6" fill="#000"/>
<ellipse cx="611.20" cy="322.60" rx="19.20" ry="9.60" transform="rotate(12 611.20 322.60)" fill="#fff" stroke="#0a0a0a" stroke-width="1.30" />
<ellipse cx="611.40" cy="320.40" rx="19.20" ry="9.60" transform="rotate(12 611.40 320.40)" fill="#fff" stroke="#0a0a0a" stroke-width="1.30" />
<ellipse cx="612.00" cy="318.60" rx="17.40" ry="8.40" transform="rotate(12 612.00 318.60)" fill="#fff" stroke="#0a0a0a" stroke-width="1.17" />
<ellipse cx="613.40" cy="314.80" rx="14.40" ry="7.00" transform="rotate(12 613.40 314.80)" fill="#fff" stroke="#0a0a0a" stroke-width="1.30" />
<ellipse cx="614.00" cy="313.60" rx="10.00" ry="4.70" transform="rotate(12 614.00 313.60)" fill="#fff" stroke="#0a0a0a" stroke-width="1.30" />
<ellipse cx="614.20" cy="314.40" rx="8.80" ry="3.70" transform="rotate(12 614.20 314.40)" fill="none" stroke="#0a0a0a" stroke-width="1.04" />
<path d="M600.4 311.6 Q596 315 594.6 317.6 M627.4 317.6 Q630 320.6 630.2 323.6" fill="none" stroke="#0a0a0a" stroke-width="1.17" stroke-linejoin="round" />
<line x1="630.4" y1="319.5" x2="637.5" y2="319.5" stroke="#2a2a2a" stroke-width="1.0" />
<rect x="637.50" y="312.50" width="15" height="15" fill="#808080" stroke="#141414" stroke-width="1"/>
<text x="645.15" y="323.60" text-anchor="middle" class="lb">9</text>
<path d="M652.8 319.6 L660.6 319.6 L645.6 368.3 L611.4 368.3" fill="none" stroke="#222" stroke-width="1.30" stroke-linejoin="round" />
<line x1="653.2" y1="346.5" x2="662" y2="346.5" stroke="#222" stroke-width="1.0" />
<rect x="662.50" y="341.50" width="15" height="15" fill="#808080" stroke="#141414" stroke-width="1"/>
<text x="670.15" y="352.60" text-anchor="middle" class="lb">13</text>
<path d="M591.6 346.6 Q589 342.6 592.6 340.2 Q600 336.6 609 339.4 Q617.6 343 618.4 347.6 Q617.4 350.2 613.4 350 Q611.6 353.6 605.6 353 Q599.6 352 597.2 349.8" fill="none" stroke="#0a0a0a" stroke-width="2.80" stroke-linejoin="round" stroke-linecap="round" stroke-linejoin="round"/>
<path d="M591.6 346.6 Q589 342.6 592.6 340.2 Q600 336.6 609 339.4 Q617.6 343 618.4 347.6 Q617.4 350.2 613.4 350 Q611.6 353.6 605.6 353 Q599.6 352 597.2 349.8" fill="none" stroke="#fff" stroke-width="0.90" stroke-linejoin="round" stroke-linecap="round" stroke-linejoin="round"/>
<line x1="575" y1="342.5" x2="588.4" y2="342.5" stroke="#2a2a2a" stroke-width="1.0" />
<rect x="559.50" y="334.50" width="15" height="15" fill="#808080" stroke="#141414" stroke-width="1"/>
<text x="567.15" y="345.60" text-anchor="middle" class="lb">21</text>
<ellipse cx="598.20" cy="369.40" rx="12.50" ry="6.20" transform="rotate(12 598.20 369.40)" fill="#fff" stroke="#0a0a0a" stroke-width="1.30" />
<ellipse cx="598.20" cy="367.40" rx="12.50" ry="6.20" transform="rotate(12 598.20 367.40)" fill="#fff" stroke="#0a0a0a" stroke-width="1.30" />
<ellipse cx="598.60" cy="367.60" rx="9.60" ry="4.40" transform="rotate(12 598.60 367.60)" fill="#fff" stroke="#0a0a0a" stroke-width="1.17" />
<ellipse cx="598.60" cy="368.40" rx="5.00" ry="1.90" transform="rotate(12 598.60 368.40)" fill="#ccc" stroke="#0a0a0a" stroke-width="1.04" />
<ellipse cx="594.60" cy="386.30" rx="11.00" ry="5.20" transform="rotate(13 594.60 386.30)" fill="none" stroke="#0a0a0a" stroke-width="3.00" />
<ellipse cx="594.60" cy="386.30" rx="11.00" ry="5.20" transform="rotate(13 594.60 386.30)" fill="none" stroke="#fff" stroke-width="1.10" />
<line x1="606.9" y1="385.5" x2="615.4" y2="385.5" stroke="#2a2a2a" stroke-width="1.0" />
<rect x="615.50" y="381.50" width="15" height="15" fill="#808080" stroke="#141414" stroke-width="1"/>
<text x="623.15" y="392.60" text-anchor="middle" class="lb">7</text>
<text x="758.2" y="410.8" class="code" textLength="55.6" lengthAdjust="spacingAndGlyphs">K148F1102A</text>
<g style="mix-blend-mode:multiply">
<mask id="wm" maskUnits="userSpaceOnUse" x="360" y="30" width="250" height="200">
<rect x="360" y="30" width="250" height="200" fill="#000"/>
<path fill="#fff" d="M581 49.5 L576.3 62.8 L563 78.5 L556 83 L566 85.7 L558.4 98.5 L548 105.5 L551 114 L541.3 128.5 L532 133.5 L528.4 141.6 L523 153.3 L511.5 157.6 L494.8 160.9 L478 163 L507 187.2 L432 187.2 Q420 185 413 178.5 L391 158 L380.5 147 Q377.5 141 380.5 135.5 Q383 132 390 128.5 L430 110.6 L487 87.4 L544 66.2 Z"/>
<path fill="#000" d="M566.5 82.0 L556.0 83.0 L544.0 86.6 L525.0 93.0 L506.0 101.6 L487.0 109.7 L462.0 120.1 L440.0 128.6 L422.0 134.8 L422.0 136.2 L440.0 130.4 L462.0 122.5 L487.0 112.5 L506.0 105.0 L525.0 96.8 L544.0 90.8 L556.0 87.8 L566.5 87.2 Z"/>
<path fill="#000" d="M556.0 102.4 L548.0 106.9 L523.0 113.8 L494.0 123.4 L468.0 133.7 L446.0 141.8 L430.0 146.8 L430.0 148.2 L446.0 144.2 L468.0 137.1 L494.0 127.8 L523.0 119.0 L548.0 113.1 L556.0 109.6 Z"/>
<path fill="#000" d="M541.0 127.8 L532.0 134.8 L508.0 140.8 L486.0 146.9 L466.0 152.0 L450.0 155.3 L450.0 156.7 L466.0 154.4 L486.0 150.3 L508.0 145.2 L532.0 140.2 L541.0 134.2 Z"/>
<path fill="#000" d="M478 163.4 L495 161.2 L478 167 L460 171.5 Z"/>
<g fill="#fff" fill-rule="evenodd">
<path d="M380 190 H396.5 V193.2 H392 V199.6 H408 V193.2 H404 V190 H420 V193.2 H415.5 V209.6 H420 V212.8 H404 V209.6 H408 V203.2 H392 V209.6 H396.5 V212.8 H380 V209.6 H384.5 V193.2 H380 Z"/>
<path d="M434 190 H452 Q462 190 462 199 V204 Q462 212.8 452 212.8 H434 Q424 212.8 424 204 V199 Q424 190 434 190 Z M439.5 194 Q434.5 194 434.5 199 V204 Q434.5 209 439.5 209 H446.5 Q451.5 209 451.5 204 V199 Q451.5 194 446.5 194 Z"/>
<path d="M465 190 H478 L490.5 205 V193.2 H486.5 V190 H501 V193.2 H497 V212.8 H488 L475.5 197.6 V209.6 H479.5 V212.8 H465 V209.6 H469 V193.2 H465 Z"/>
<path d="M505.5 190 H530 Q541.5 190 541.5 199.5 V203.5 Q541.5 212.8 530 212.8 H505.5 V209.6 H510 V193.2 H505.5 Z M518.5 194 V209 H526.5 Q532 209 532 204 V199 Q532 194 526.5 194 Z"/>
<path d="M557 190 H566 L582 209.6 H586.5 V212.8 H568 V209.6 H571 L568.4 206.2 H553.6 L551.4 209.6 H555 V212.8 H542.5 V209.6 H546.5 Z M559.8 196 L555.6 203 H565.8 Z"/>
</g>
</mask>
<rect x="360" y="30" width="250" height="200" fill="url(#dots)" mask="url(#wm)"/>
</g>

</svg>
</body></html>
